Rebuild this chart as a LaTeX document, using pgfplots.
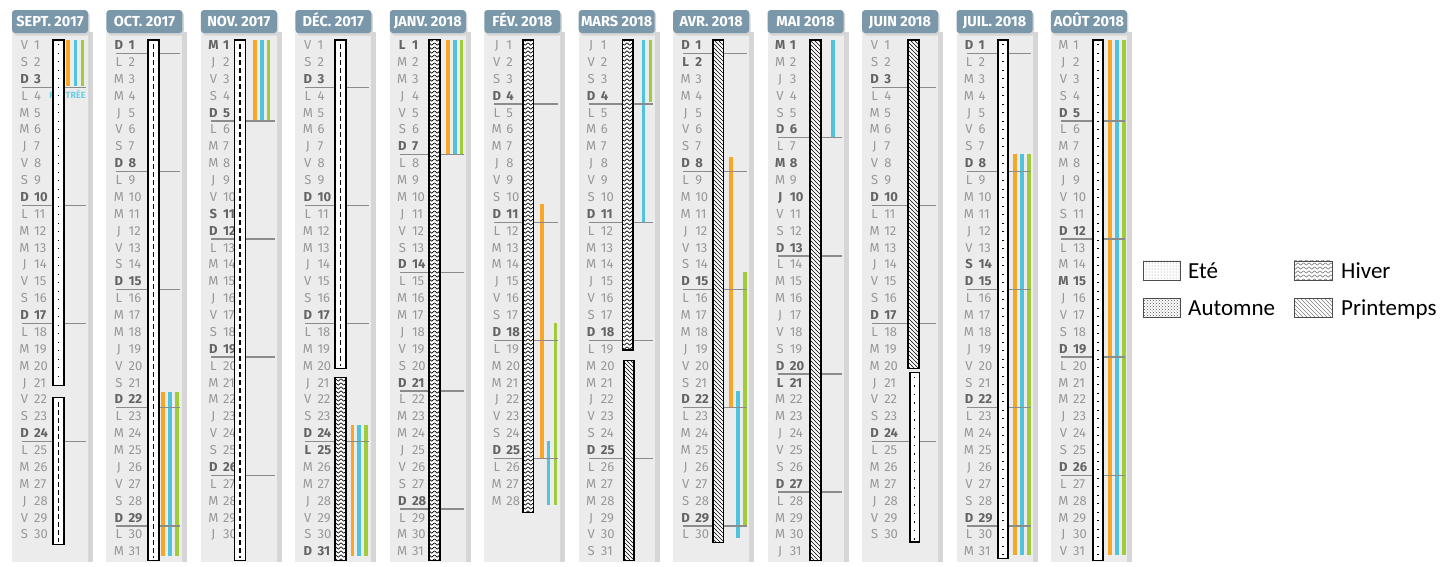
\documentclass[border=0pt]{standalone}
\usepackage{fontspec}
\setmainfont{Fira Sans}
\newfontfamily\legfont{Carlito}
\usepackage{pgfplots}
\pgfplotsset{compat=1.18}
\usetikzlibrary{patterns}

\definecolor{hdr}{RGB}{122,152,170}
\definecolor{panel}{RGB}{236,236,236}
\definecolor{shadow}{RGB}{214,214,214}
\definecolor{dayn}{RGB}{152,152,152}
\definecolor{dayb}{RGB}{100,100,100}
\definecolor{sepc}{RGB}{140,140,140}
\definecolor{zA}{RGB}{247,166,38}
\definecolor{zB}{RGB}{80,196,222}
\definecolor{zC}{RGB}{160,204,60}

% zigzag (hiver) and diagonal (printemps) hatching
\pgfdeclarepatternformonly{zz}{\pgfqpoint{-0.5pt}{-0.5pt}}{\pgfqpoint{6pt}{4.5pt}}{\pgfqpoint{5.5pt}{4pt}}{%
  \pgfsetlinewidth{0.7pt}\pgfpathmoveto{\pgfqpoint{0pt}{3.2pt}}\pgfpathlineto{\pgfqpoint{2.75pt}{0.8pt}}%
  \pgfpathlineto{\pgfqpoint{5.5pt}{3.2pt}}\pgfusepath{stroke}}
\pgfdeclarepatternformonly{nwl}{\pgfqpoint{-0.5pt}{-0.5pt}}{\pgfqpoint{4.5pt}{4.5pt}}{\pgfqpoint{4pt}{4pt}}{%
  \pgfsetlinewidth{0.6pt}\pgfpathmoveto{\pgfqpoint{-0.2pt}{4.2pt}}\pgfpathlineto{\pgfqpoint{4.2pt}{-0.2pt}}\pgfusepath{stroke}}

\tikzset{
  dayn/.style={font=\fontsize{13}{13}\selectfont, text=dayn, inner sep=0pt, yshift=-4.6pt},
  dayb/.style={font=\fontsize{13}{13}\selectfont\bfseries, text=dayb, inner sep=0pt, yshift=-4.6pt},
  hdrtxt/.style={font=\fontsize{14.5}{14.5}\selectfont\bfseries, text=white, anchor=base, inner sep=0pt, yshift=-5pt},
  legtxt/.style={font=\legfont\fontsize{23}{23}\selectfont, anchor=base west, inner sep=0pt, yshift=-7.6pt},
}
\pgfplotsset{
  sepl/.style={draw=sepc, line width=1.3pt},
  zone/.style={line width=3.5pt},
  barbox/.style={draw=black, line width=1.2pt},
}

\makeatletter
% month panel with its header
\newcommand\panel[2]{%
  \pgfmathsetmacro\xa{#1+75}\pgfmathsetmacro\xb{#1+81}\pgfmathsetmacro\xc{#1+76}%
  \pgfmathsetmacro\xm{#1+38}\pgfmathsetmacro\xs{#1+2}\pgfmathsetmacro\xt{#1+77.5}%
  \edef\tmp{%
    \noexpand\addplot[fill=shadow, draw=none] coordinates {(\xa,0.2) (\xb,0.2) (\xb,31.65) (\xa,31.65)} -- cycle;
    \noexpand\addplot[fill=panel, draw=none] coordinates {(#1,0.2) (\xc,0.2) (\xc,31.65) (#1,31.65)} -- cycle;
    \noexpand\addplot[fill=shadow, draw=none, rounded corners=3pt] coordinates {(\xs,-0.95) (\xt,-0.95) (\xt,0.45) (\xs,0.45)} -- cycle;
    \noexpand\addplot[fill=hdr, draw=none, rounded corners=3pt] coordinates {(#1,-1.07) (\xc,-1.07) (\xc,0.29) (#1,0.29)} -- cycle;
    \noexpand\node[hdrtxt] at (axis cs:\xm,-0.39) {#2};}%
  \tmp}
% day letters, numbers and Sunday separators: left x, weekday of the 1st (L=0), days, holidays
\newcommand\monthlabels[4]{%
  \pgfplotsforeachungrouped \dd in {1,...,#3}{%
    \pgfmathtruncatemacro\wkd{mod(\dd-1+#2,7)}%
    \ifcase\wkd\def\ltr{L}\or\def\ltr{M}\or\def\ltr{M}\or\def\ltr{J}\or\def\ltr{V}\or\def\ltr{S}\else\def\ltr{D}\fi
    \edef\tmp{\noexpand\in@{,\dd,}{,#4,}}\tmp
    \ifnum\wkd=6 \in@true\fi
    \ifin@\def\sty{dayb}\else\def\sty{dayn}\fi
    \pgfmathsetmacro\xa{#1+12.5}\pgfmathsetmacro\xb{#1+22}%
    \edef\tmp{\noexpand\node[\sty,anchor=base] at (axis cs:\xa,\dd) {\ltr};
      \noexpand\node[\sty,anchor=base west] at (axis cs:\xb,\dd) {\dd};}\tmp
    \ifnum\wkd=6 \ifnum\dd<#3
      \pgfmathsetmacro\ya{\dd+0.5}\pgfmathsetmacro\xc{#1+10}\pgfmathsetmacro\xd{#1+74}%
      \edef\tmp{\noexpand\addplot[sepl] coordinates {(\xc,\ya) (\xd,\ya)};}\tmp
    \fi\fi}}
% season bar: xl, xr, top, bottom, 0 ete / 1 automne / 2 hiver / 3 printemps
\newcommand\sbar[5]{%
  \pgfmathsetmacro\xm{(#1+#2)/2}\pgfmathsetmacro\yt{#3+0.25}\pgfmathsetmacro\yb{#4-0.15}%
  \addplot[fill=white, draw=none] coordinates {(#1,#3) (#2,#3) (#2,#4) (#1,#4)} -- cycle;
  \ifcase#5
    \edef\tmp{\noexpand\addplot[draw=black, line width=1.3pt, dash pattern=on 1.3pt off 7.2pt] coordinates {(\xm,\yt) (\xm,\yb)};}\tmp
  \or
    \edef\tmp{\noexpand\addplot[draw=black, line width=1.6pt, dash pattern=on 5pt off 3pt] coordinates {(\xm,\yt) (\xm,\yb)};}\tmp
  \or
    \addplot[pattern=zz, pattern color=black, draw=none] coordinates {(#1,#3) (#2,#3) (#2,#4) (#1,#4)} -- cycle;
  \or
    \addplot[pattern=nwl, pattern color=black, draw=none] coordinates {(#1,#3) (#2,#3) (#2,#4) (#1,#4)} -- cycle;
  \fi
  \addplot[barbox] coordinates {(#1,#3) (#2,#3) (#2,#4) (#1,#4)} -- cycle;}
\newcommand\zl[4]{\addplot[zone, draw=#4] coordinates {(#1,#2) (#1,#3)};}
\makeatother

\begin{document}
\begin{tikzpicture}
\begin{axis}[
  width=1443pt, height=566pt, scale only axis,
  xmin=0, xmax=1443, ymin=-1.667, ymax=31.88, y dir=reverse,
  axis lines=none, xtick=\empty, ytick=\empty, clip=false,
]
% panels
\panel{12}{SEPT. 2017}
\panel{106.45}{OCT. 2017}
\panel{200.9}{NOV. 2017}
\panel{295.35}{DÉC. 2017}
\panel{389.8}{JANV. 2018}
\panel{484.25}{FÉV. 2018}
\panel{578.7}{MARS 2018}
\panel{673.15}{AVR. 2018}
\panel{767.6}{MAI 2018}
\panel{862.05}{JUIN 2018}
\panel{956.5}{JUIL. 2018}
\panel{1050.95}{AOÛT 2018}

% school holidays, zones A (orange), B (blue), C (green)
\zl{68}{0.7}{3.43}{zA} \zl{75.5}{0.7}{3.43}{zB} \zl{82.5}{0.7}{3.43}{zC}
\zl{163}{21.57}{31.3}{zA} \zl{170}{21.57}{31.3}{zB} \zl{177}{21.57}{31.3}{zC}
\zl{255}{0.7}{5.49}{zA} \zl{262}{0.7}{5.49}{zB} \zl{268.5}{0.7}{5.49}{zC}
\zl{352.5}{23.52}{31.27}{zA} \zl{359}{23.52}{31.27}{zB} \zl{366}{23.52}{31.27}{zC}
\zl{448}{0.7}{7.52}{zA} \zl{455}{0.7}{7.52}{zB} \zl{461.5}{0.7}{7.52}{zC}
\zl{542}{10.43}{25.48}{zA} \zl{548.7}{24.47}{28.27}{zB} \zl{555.3}{17.46}{28.27}{zC}
\zl{643.7}{0.7}{11.47}{zB} \zl{650.3}{0.7}{4.36}{zC}
\zl{731}{7.64}{22.44}{zA} \zl{738}{21.49}{30.22}{zB} \zl{745}{14.44}{29.55}{zC}
\zl{833}{0.7}{6.44}{zB}
\zl{1015}{7.46}{31.23}{zA} \zl{1022}{7.46}{31.23}{zB} \zl{1029}{7.46}{31.23}{zC}
\zl{1110}{0.7}{31.23}{zA} \zl{1117}{0.7}{31.23}{zB} \zl{1124}{0.7}{31.23}{zC}

% days
\monthlabels{12}{4}{30}{}
\monthlabels{106.45}{6}{31}{}
\monthlabels{200.9}{2}{30}{1,11}
\monthlabels{295.35}{4}{31}{25}
\monthlabels{389.8}{0}{31}{1}
\monthlabels{484.25}{3}{28}{}
\monthlabels{578.7}{3}{31}{}
\monthlabels{673.15}{6}{30}{2}
\monthlabels{767.6}{1}{31}{1,8,10,21}
\monthlabels{862.05}{4}{30}{}
\monthlabels{956.5}{6}{31}{14}
\monthlabels{1050.95}{2}{31}{15}

\node[font=\fontsize{9}{9}\selectfont\bfseries, text=zB!85, anchor=base, inner sep=0pt, yshift=-3.2pt] at (axis cs:67.5,4) {RENTRÉE};

% seasons
\sbar{53}{64}{0.7}{21.2}{0}
\sbar{53}{64}{21.9}{30.62}{1}
\sbar{148}{159}{0.7}{31.53}{1}
\sbar{234.5}{245.5}{0.7}{31.53}{1}
\sbar{335}{346}{0.7}{20.15}{1}
\sbar{335}{346}{20.7}{31.53}{2}
\sbar{429}{440}{0.68}{31.53}{2}
\sbar{523}{533.5}{0.7}{28.7}{2}
\sbar{622.5}{633}{0.7}{19.08}{2}
\sbar{624}{634}{19.7}{31.53}{3}
\sbar{713}{723.5}{0.7}{30.5}{3}
\sbar{810}{821}{0.7}{31.53}{3}
\sbar{908}{919}{0.7}{20.15}{3}
\sbar{910}{919.5}{20.42}{30.46}{0}
\sbar{998}{1008}{0.7}{31.45}{0}
\sbar{1093}{1103}{0.7}{31.55}{0}

% legend
\addplot[draw=black!70, line width=0.8pt, pattern=dots, pattern color=gray] coordinates {(1143,13.8) (1180,13.8) (1180,14.93) (1143,14.93)} -- cycle;
\addplot[draw=black!70, line width=0.8pt, pattern=crosshatch dots, pattern color=black!70] coordinates {(1143,16.0) (1180,16.0) (1180,17.12) (1143,17.12)} -- cycle;
\addplot[draw=black!70, line width=0.8pt, pattern=zz, pattern color=gray] coordinates {(1294,13.8) (1332,13.8) (1332,14.93) (1294,14.93)} -- cycle;
\addplot[draw=black!70, line width=0.8pt, pattern=nwl, pattern color=gray] coordinates {(1294,16.0) (1332,16.0) (1332,17.12) (1294,17.12)} -- cycle;
\node[legtxt] at (axis cs:1188,14.37) {Eté};
\node[legtxt] at (axis cs:1188,16.56) {Automne};
\node[legtxt] at (axis cs:1341,14.37) {Hiver};
\node[legtxt] at (axis cs:1341,16.56) {Printemps};
\end{axis}
\pgfresetboundingbox
\path[use as bounding box] (current axis.south west) rectangle (current axis.north east);
\end{tikzpicture}
\end{document}
